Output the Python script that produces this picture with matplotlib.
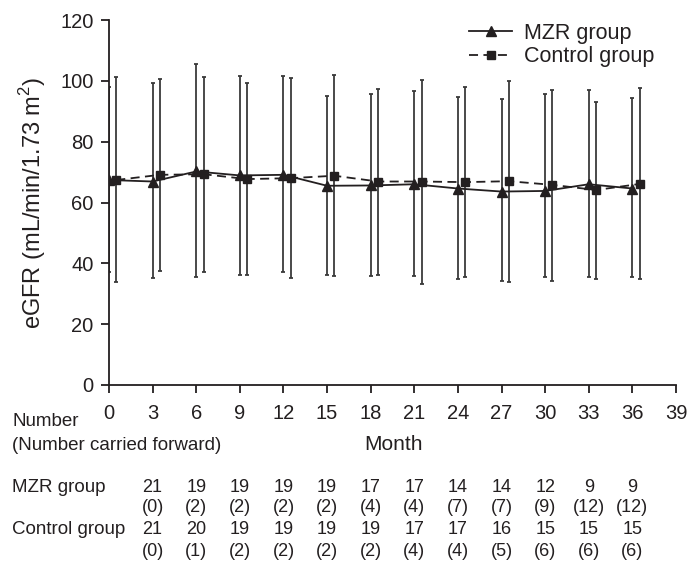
import numpy as np
import matplotlib as mpl
mpl.use('Agg')
import matplotlib.pyplot as plt

plt.rcParams.update({
    "font.family": ["Liberation Sans", "DejaVu Sans"],
    "font.size": 13.5,
})

# eGFR means and error-bar limits
months = [0, 3, 6, 9, 12, 15, 18, 21, 24, 27, 30, 33, 36]
mzr_mean = [67.4, 66.9, 70.2, 68.9, 69.1, 65.5, 65.6, 66.0, 64.6, 63.6, 63.8, 66.0, 64.6]
mzr_low = [37.1, 35.1, 35.6, 36.3, 37.2, 36.2, 35.9, 35.9, 34.8, 34.3, 35.4, 35.5, 35.4]
mzr_high = [98.1, 99.4, 105.5, 101.7, 101.7, 95.0, 95.6, 96.5, 94.8, 93.9, 95.6, 97.0, 94.3]
ctl_mean = [67.4, 69.1, 69.3, 67.7, 68.0, 68.8, 66.9, 66.9, 66.7, 67.0, 65.8, 64.1, 66.1]
ctl_low = [33.7, 37.6, 37.3, 36.2, 35.3, 35.7, 36.3, 33.2, 35.6, 34.0, 34.3, 35.0, 34.8]
ctl_high = [101.1, 100.7, 101.4, 99.2, 100.9, 101.9, 97.3, 100.4, 97.9, 100.0, 97.1, 93.2, 97.5]

# numbers under the axis (columns at months 3..36)
table_months = [3, 6, 9, 12, 15, 18, 21, 24, 27, 30, 33, 36]
mzr_n = [21, 19, 19, 19, 19, 17, 17, 14, 14, 12, 9, 9]
mzr_cf = [0, 2, 2, 2, 2, 4, 4, 7, 7, 9, 12, 12]
ctl_n = [21, 20, 19, 19, 19, 19, 17, 17, 16, 15, 15, 15]
ctl_cf = [0, 1, 2, 2, 2, 2, 4, 4, 5, 6, 6, 6]

ink = '#231f20'
W, H = 700, 574

fig = plt.figure(figsize=(7, 5.74), dpi=100)
ax = fig.add_axes([109/W, 1-385/H, (676-109)/W, (385-20)/H])

m = np.array(months, dtype=float)
ym = np.array(mzr_mean)
yc = np.array(ctl_mean)
err_m = [ym - np.array(mzr_low), np.array(mzr_high) - ym]
err_c = [yc - np.array(ctl_low), np.array(ctl_high) - yc]

ax.errorbar(m, ym, yerr=err_m, fmt='none', ecolor='#3a3a3a', elinewidth=1.3,
            capsize=1.5, capthick=1.3, zorder=2)
ax.errorbar(m + 0.5, yc, yerr=err_c, fmt='none', ecolor='#3a3a3a', elinewidth=1.3,
            capsize=1.5, capthick=1.3, zorder=2)
ax.plot(m, ym, '-', color=ink, lw=1.3, marker='^', ms=7.5, label='MZR group', zorder=3)
ax.plot(m + 0.5, yc, '--', color=ink, lw=1.3, dashes=(5, 3), marker='s', ms=5.5,
        label='Control group', zorder=3)

ax.set_xlim(0, 39)
ax.set_ylim(0, 120)
ax.set_xticks(np.arange(0, 40, 3))
ax.set_yticks(np.arange(0, 121, 20))
for s in ['top', 'right']:
    ax.spines[s].set_visible(False)
for s in ['left', 'bottom']:
    ax.spines[s].set_linewidth(1.3)
    ax.spines[s].set_color(ink)
ax.tick_params(direction='out', length=5.5, width=1.3, color=ink, labelsize=14.5,
               labelcolor=ink)
ax.tick_params(axis='x', pad=8.5)
ax.tick_params(axis='y', pad=5.5)
ax.set_ylabel('eGFR (mL/min/1.73 m$^\\mathregular{2}$)', fontsize=17, color=ink, labelpad=9)

ax.legend(loc='upper left', bbox_to_anchor=(469/W, 1-23/H), bbox_transform=fig.transFigure,
          frameon=False, fontsize=15.5, handlelength=2.0, handletextpad=0.55,
          labelspacing=0.1, borderpad=0, borderaxespad=0, labelcolor=ink)

# text block under the axis
fy = lambda px: 1 - px/H
fig.text(12/W, fy(422), 'Number', fontsize=13.5, color=ink, va='center')
fig.text(12/W, fy(445), '(Number carried forward)', fontsize=13.5, color=ink, va='center')
fig.text(393/W, fy(445), 'Month', fontsize=15, color=ink, va='center', ha='center')
fig.text(12/W, fy(488), 'MZR group', fontsize=13.5, color=ink, va='center')
fig.text(12/W, fy(530), 'Control group', fontsize=13.5, color=ink, va='center')

trans = mpl.transforms.blended_transform_factory(ax.transData, fig.transFigure)
for i, mo in enumerate(table_months):
    ax.text(mo, fy(488), str(mzr_n[i]), transform=trans, ha='center', va='center',
            fontsize=13, color=ink)
    ax.text(mo, fy(508), '(%d)' % mzr_cf[i], transform=trans, ha='center', va='center',
            fontsize=13, color=ink)
    ax.text(mo, fy(530), str(ctl_n[i]), transform=trans, ha='center', va='center',
            fontsize=13, color=ink)
    ax.text(mo, fy(551), '(%d)' % ctl_cf[i], transform=trans, ha='center', va='center',
            fontsize=13, color=ink)

plt.savefig('out.png', dpi=100)
